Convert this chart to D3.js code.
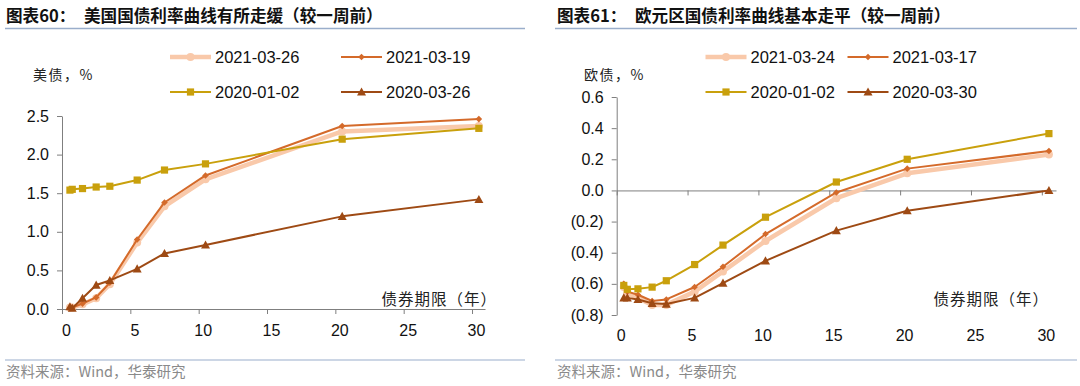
<!DOCTYPE html>
<html>
<head>
<meta charset="utf-8">
<script src="https://cdn.jsdelivr.net/npm/d3@7.9.0/dist/d3.min.js"></script>
<style>
  body { margin: 0; background: #fff; }
  svg text { font-family: "Liberation Sans", Arial, sans-serif; fill: #111; }
  svg text.cjk { font-family: "Noto Sans CJK SC", sans-serif; }
</style>
</head>
<body>
<svg id="chart" width="1080" height="386"></svg>
<script>
// ---------- Data ----------
const xTicks = [0, 5, 10, 15, 20, 25, 30];

// US Treasury curve (tenor in years)
const usTenors = [0.08, 0.25, 1, 2, 3, 5, 7, 10, 20, 30];
const usLabels = ['2021-03-26', '2021-03-19', '2020-01-02', '2020-03-26'];
const us20210326 = [0.02, 0.02, 0.06, 0.14, 0.32, 0.86, 1.33, 1.68, 2.30, 2.37];
const us20210319 = [0.01, 0.02, 0.07, 0.15, 0.34, 0.90, 1.38, 1.73, 2.37, 2.46];
const us20200102 = [1.54, 1.55, 1.56, 1.58, 1.59, 1.67, 1.80, 1.88, 2.20, 2.34];
const us20200326 = [0.03, 0.01, 0.14, 0.31, 0.37, 0.52, 0.72, 0.83, 1.20, 1.42];
const usYTicks = [0, 0.5, 1, 1.5, 2, 2.5];

// Euro area govt curve
const euTenors = [0, 0.25, 1, 2, 3, 5, 7, 10, 15, 20, 30];
const euLabels = ['2021-03-24', '2021-03-17', '2020-01-02', '2020-03-30'];
const eu20210324 = [-0.62, -0.66, -0.69, -0.735, -0.735, -0.65, -0.52, -0.325, -0.05, 0.11, 0.23];
const eu20210317 = [-0.60, -0.65, -0.67, -0.71, -0.70, -0.62, -0.49, -0.28, -0.013, 0.14, 0.253];
const eu20200102 = [-0.61, -0.635, -0.632, -0.621, -0.58, -0.476, -0.351, -0.172, 0.054, 0.20, 0.365];
const eu20200330 = [-0.69, -0.69, -0.70, -0.725, -0.73, -0.69, -0.595, -0.452, -0.258, -0.13, 0.0];
const euYTicks = [-0.8, -0.6, -0.4, -0.2, 0, 0.2, 0.4, 0.6];

// plotted points sit half a year right of the tick marks in the original
const posShift = 0.5;

// series styles (legend order)
const styles = [
  { color: '#F9C9AA', width: 4.5, marker: 'circle', size: 4 },
  { color: '#D46A2A', width: 2, marker: 'diamond', size: 3.3 },
  { color: '#C9A00C', width: 2, marker: 'square', size: 3.6 },
  { color: '#9E4A14', width: 2, marker: 'triangle', size: 4.5 },
];

const svg = d3.select('#chart');

function markerPath(type, s) {
  if (type === 'diamond') return `M0,${-s}L${s},0L0,${s}L${-s},0Z`;
  if (type === 'square') return `M${-s},${-s}H${s}V${s}H${-s}Z`;
  if (type === 'triangle') return `M0,${-s}L${s},${s * 0.8}L${-s},${s * 0.8}Z`;
  return d3.arc()({ innerRadius: 0, outerRadius: s, startAngle: 0, endAngle: 2 * Math.PI });
}

function drawPanel(cfg) {
  const g = svg.append('g');

  // header + footer
  g.append('text').attr('x', cfg.titleX).attr('y', 22).attr('class', 'cjk')
    .style('font-size', '16.6px').style('font-weight', 'bold').text(cfg.figNo);
  g.append('text').attr('x', cfg.titleX2).attr('y', 22).attr('class', 'cjk')
    .style('font-size', '16.6px').style('font-weight', 'bold').text(cfg.title);
  g.append('line').attr('x1', cfg.ruleL).attr('x2', cfg.ruleR).attr('y1', 28.5).attr('y2', 28.5)
    .attr('stroke', '#9AAECB').attr('stroke-width', 1.6);
  g.append('line').attr('x1', cfg.ruleL).attr('x2', cfg.ruleR).attr('y1', 360).attr('y2', 360)
    .attr('stroke', '#9AAECB').attr('stroke-width', 1.2);
  g.append('text').attr('x', cfg.titleX).attr('y', 377).attr('class', 'cjk')
    .style('font-size', '14.5px').style('fill', '#8a8a8a').text('资料来源：Wind，华泰研究');

  const x = d3.scaleLinear().domain([0, cfg.xMax]).range([cfg.left, cfg.right]);
  const y = d3.scaleLinear().domain(cfg.yDomain).range([cfg.bottom, cfg.top]);

  // y axis
  const yAxis = g.append('g').attr('transform', `translate(${cfg.left},0)`)
    .call(d3.axisLeft(y).tickValues(cfg.yTicks).tickSize(5).tickSizeOuter(0).tickPadding(8)
      .tickFormat(cfg.yFormat));
  yAxis.select('.domain').attr('stroke', '#7f7f7f');
  yAxis.selectAll('.tick line').attr('stroke', '#7f7f7f');
  yAxis.selectAll('.tick text').style('font-size', '16px').style('fill', '#111');

  // x axis on the zero line
  const xAxis = g.append('g').attr('transform', `translate(0,${y(0)})`)
    .call(d3.axisBottom(x).tickValues(xTicks).tickSize(5).tickSizeOuter(0).tickFormat(''));
  xAxis.select('.domain').attr('stroke', '#7f7f7f');
  xAxis.selectAll('.tick line').attr('stroke', '#7f7f7f');

  g.selectAll('.xlab').data(xTicks).join('text')
    .attr('x', (d) => x(d) + 4.5).attr('y', cfg.xLabelY)
    .attr('text-anchor', 'middle').style('font-size', '16px').text((d) => d);

  g.append('text').attr('class', 'cjk').attr('x', cfg.xTitleX).attr('y', cfg.xTitleY)
    .attr('text-anchor', 'end').style('font-size', '15.5px').style('letter-spacing', '1px')
    .style('fill', '#222').text('债券期限（年）');
  g.append('text').attr('class', 'cjk').attr('x', cfg.yTitleX).attr('y', 80)
    .style('font-size', '14px').style('letter-spacing', '1.5px').style('fill', '#222').text(cfg.yTitle);

  // series
  const line = d3.line().x((d) => x(d[0] + posShift)).y((d) => y(d[1]));
  cfg.series.forEach((vals, i) => {
    const st = styles[i];
    const pts = cfg.tenors.map((t, j) => [t, vals[j]]);
    g.append('path').attr('d', line(pts)).attr('fill', 'none')
      .attr('stroke', st.color).attr('stroke-width', st.width).attr('stroke-linejoin', 'round');
    g.append('g').selectAll('path').data(pts).join('path')
      .attr('transform', (d) => `translate(${x(d[0] + posShift)},${y(d[1])})`)
      .attr('d', markerPath(st.marker, st.size)).attr('fill', st.color);
  });

  // legend (2 x 2)
  cfg.labels.forEach((lab, i) => {
    const st = styles[i];
    const col = i % 2, row = Math.floor(i / 2);
    const lx = cfg.legendX[col], ly = [57, 92][row];
    g.append('line').attr('x1', lx).attr('x2', lx + 41).attr('y1', ly).attr('y2', ly)
      .attr('stroke', st.color).attr('stroke-width', st.width);
    g.append('path').attr('transform', `translate(${lx + 20.5},${ly})`)
      .attr('d', markerPath(st.marker, st.size)).attr('fill', st.color);
    g.append('text').attr('x', lx + 45).attr('y', ly + 6).style('font-size', '16.5px').text(lab);
  });
}

drawPanel({
  figNo: '图表60：', title: '美国国债利率曲线有所走缓（较一周前）',
  titleX: 6, titleX2: 84, ruleL: 5, ruleR: 525,
  left: 62, right: 485, xMax: 30.95, top: 116, bottom: 309,
  yDomain: [0, 2.5], yTicks: usYTicks, yFormat: d3.format('.1f'),
  xLabelY: 336, xTitleX: 497, xTitleY: 305, yTitleX: 33, yTitle: '美债，%',
  tenors: usTenors, series: [us20210326, us20210319, us20200102, us20200326],
  labels: usLabels, legendX: [170, 341],
});

drawPanel({
  figNo: '图表61：', title: '欧元区国债利率曲线基本走平（较一周前）',
  titleX: 557, titleX2: 635, ruleL: 555, ruleR: 1077,
  left: 616.7, right: 1056, xMax: 31, top: 97, bottom: 315,
  yDomain: [-0.8, 0.6], yTicks: euYTicks,
  yFormat: (d) => (d < 0 ? `(${d3.format('.1f')(-d)})` : d3.format('.1f')(d)),
  xLabelY: 341, xTitleX: 1049, xTitleY: 305, yTitleX: 584, yTitle: '欧债，%',
  tenors: euTenors, series: [eu20210324, eu20210317, eu20200102, eu20200330],
  labels: euLabels, legendX: [705.5, 847.5],
});
</script>
</body>
</html>
